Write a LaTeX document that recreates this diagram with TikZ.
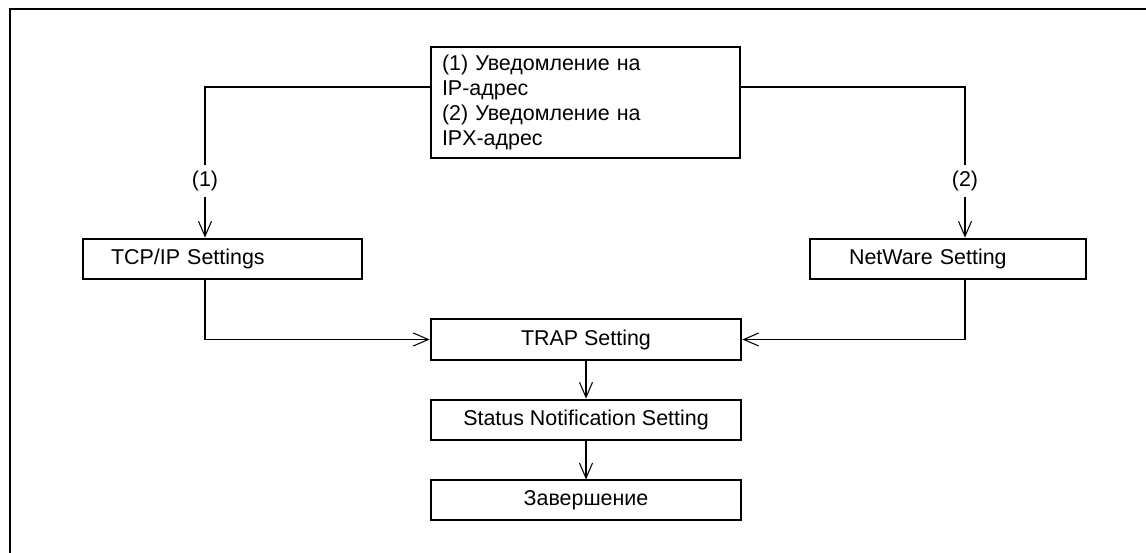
\documentclass[tikz,border=0pt]{standalone}
\usepackage{fontspec}
\setmainfont{Liberation Sans}
\usetikzlibrary{arrows.meta}

\begin{document}
\begin{tikzpicture}[x=0.02cm,y=-0.02cm,
  box/.style={draw,line width=0.7pt,minimum height=0.8cm,inner sep=0pt,font=\fontsize{12.2}{14.2}\selectfont},
  boldbox/.style={box,line width=1.6pt},
  lbl/.style={font=\fontsize{12.2}{14.2}\selectfont},
  link/.style={line width=0.6pt},
  arr/.style={link,-{Straight Barb[length=0.3cm,width=0.26cm]}}]
\useasboundingbox (0,0) rectangle (1146,553);
\draw[line width=1.6pt] (10,553) -- (10,9) -- (1146,9);
\node[box,minimum width=6.18cm,minimum height=2.22cm,text width=5.74cm,align=left] (notice) at (585.5,102.5) {(1) Уведомление на\\IP-адрес\\(2) Уведомление на\\IPX-адрес};
\node[boldbox,minimum width=5.58cm,text width=4.46cm,align=left] (tcpip) at (222.5,259) {TCP/IP Settings};
\node[boldbox,minimum width=5.52cm,text width=3.96cm,align=left] (netware) at (948,259) {NetWare Setting};
\node[boldbox,minimum width=6.2cm,minimum height=0.82cm] (trap) at (586,339.5) {TRAP Setting};
\node[boldbox,minimum width=6.2cm] (status) at (586,420) {Status Notification Setting};
\node[box,minimum width=6.2cm] (finish) at (586,500) {Завершение};
\node[lbl] (ip) at (205,181) {(1)};
\node[lbl] (ipx) at (965,181) {(2)};
\draw[link] (notice.west |- 0,87) -| (ip);
\draw[arr] (ip) -- (ip |- tcpip.north);
\draw[arr] (ip |- tcpip.south) |- (trap.west);
\draw[link] (notice.east |- 0,87) -| (ipx);
\draw[arr] (ipx) -- (ipx |- netware.north);
\draw[arr] (ipx |- netware.south) |- (trap.east);
\draw[arr] (trap) -- (status);
\draw[arr] (status) -- (finish);
\end{tikzpicture}
\end{document}
